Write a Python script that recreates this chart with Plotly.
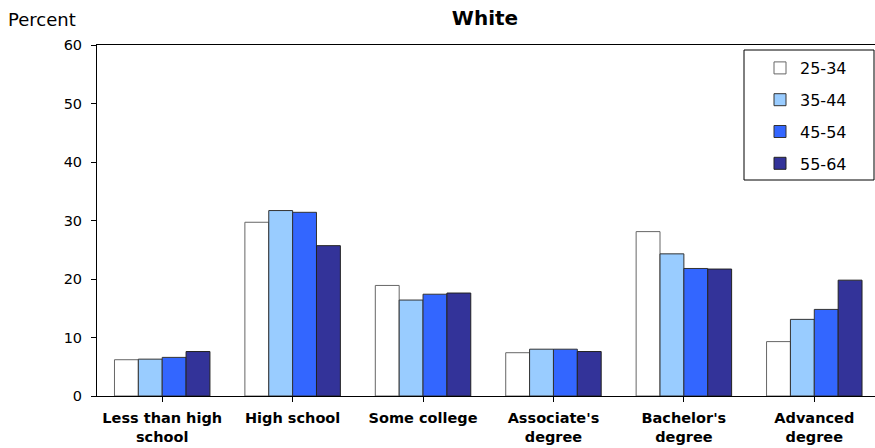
import plotly.graph_objects as go

categories = ["Less than high<br>school", "High school", "Some college",
              "Associate's<br>degree", "Bachelor's<br>degree", "Advanced<br>degree"]
age_groups = ["25-34", "35-44", "45-54", "55-64"]
v_25_34 = [6.2, 29.7, 18.9, 7.4, 28.1, 9.3]
v_35_44 = [6.3, 31.7, 16.4, 8.0, 24.3, 13.1]
v_45_54 = [6.6, 31.4, 17.4, 8.0, 21.8, 14.8]
v_55_64 = [7.6, 25.7, 17.6, 7.6, 21.7, 19.8]
series = [v_25_34, v_35_44, v_45_54, v_55_64]
colors = ["#FFFFFF", "#99CCFF", "#3366FF", "#333399"]
line_colors = ["#666666", "#333333", "#333333", "#222222"]

W, H = 875, 448
L, T, B = 97, 45, 52
plot_w = W - L
plot_h = H - T - B
FONT = "DejaVu Sans, Liberation Sans, Arial, sans-serif"


def px_x(p):
    return (p - L) / plot_w


def px_y(p):
    return (H - B - p) / plot_h


fig = go.Figure()
for i, (name, vals) in enumerate(zip(age_groups, series)):
    fig.add_trace(go.Bar(
        x=list(range(len(categories))), y=vals, name=name,
        marker=dict(color=colors[i], line=dict(color=line_colors[i], width=1)),
        legendgroup=name,
    ))

fig.update_layout(
    width=W, height=H,
    margin=dict(l=L, r=0, t=T, b=B, autoexpand=False),
    paper_bgcolor="white", plot_bgcolor="white",
    barmode="group", bargap=0.268, bargroupgap=0,
    font=dict(family=FONT, size=14, color="black"),
    title=dict(text="<b>White</b>", x=485 / W, xanchor="center", y=1 - 18 / H,
               yanchor="middle", font=dict(size=20, family=FONT)),
    showlegend=True,
    legend=dict(x=px_x(760), xanchor="left", y=px_y(51), yanchor="top",
                borderwidth=0, bgcolor="rgba(0,0,0,0)",
                font=dict(size=16, family=FONT), tracegroupgap=8, itemwidth=30),
    annotations=[dict(text="Percent", x=px_x(6), xref="paper", xanchor="left",
                      y=px_y(20), yref="paper", yanchor="middle",
                      showarrow=False, font=dict(size=18, family=FONT))],
    shapes=[dict(type="rect", xref="paper", yref="paper",
                 x0=px_x(744), x1=px_x(874), y0=px_y(180), y1=px_y(50),
                 line=dict(color="black", width=1), fillcolor="white", layer="below")],
)

fig.update_xaxes(
    tickmode="array", tickvals=list(range(len(categories))), ticktext=categories,
    range=[-0.5, 5.5 - 4.5 / 130.4],
    showline=True, linecolor="black", linewidth=1, mirror=True,
    ticks="outside", tickson="boundaries", ticklen=5, tickcolor="black",
    ticklabelstandoff=4,
    tickfont=dict(size=14.5, family=FONT, weight="bold"),
    showgrid=False, zeroline=False,
)
fig.update_yaxes(
    range=[0, 60], dtick=10, tickmode="linear",
    showline=True, linecolor="black", linewidth=1,
    ticks="outside", ticklen=5, tickcolor="black", ticklabelstandoff=6,
    tickfont=dict(size=14.5, family=FONT),
    showgrid=False, zeroline=False,
)

fig.write_html("out.html", config={"displayModeBar": False},
               post_script="document.body.style.margin='0px';document.body.style.padding='0px';")
